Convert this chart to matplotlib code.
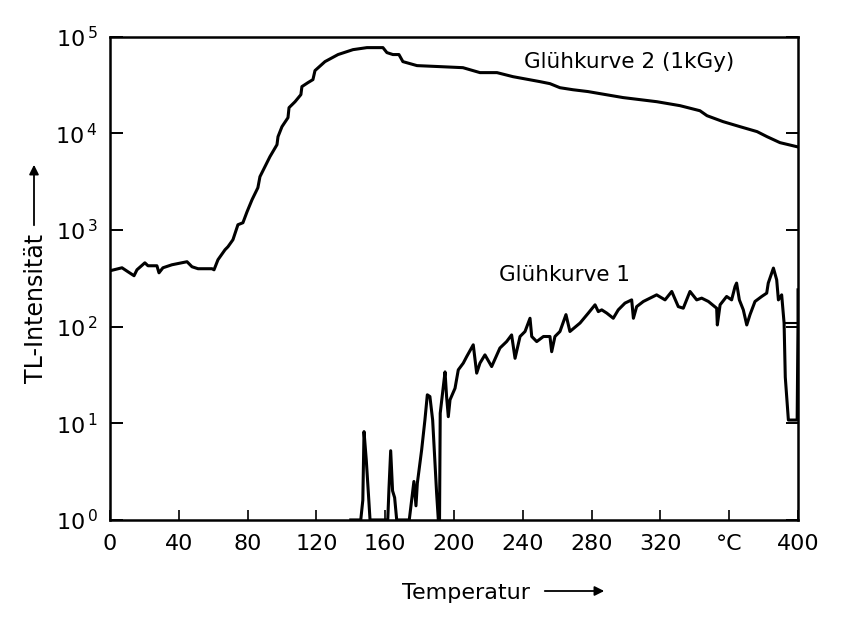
import numpy as np
import matplotlib
matplotlib.use("Agg")
from matplotlib import pyplot as plt
from matplotlib.ticker import FixedLocator, FixedFormatter, NullLocator

# Glühkurve 2 (1kGy)
g2_x = [0, 7.0, 10.5, 14.0, 15.7, 20.3, 22.1, 27.3, 28.5, 30.8, 36.0, 44.8, 47.7, 51.2,
        59.3, 60.5, 62.8, 66.9, 68.6, 71.5, 74.4, 77.3, 79.7, 82.6, 86.0, 87.2, 90.1,
        93.0, 97.1, 97.7, 100.0, 103.5, 104.1, 107.6, 111.0, 111.6, 115.1, 118.0, 119.2,
        125.0, 132.6, 141.3, 149.4, 158.7, 161.0, 164.5, 168.0, 170.3, 178.5, 191.9,
        205.2, 215.1, 225.0, 234.3, 250.0, 255.8, 261.6, 269.2, 277.9, 284.9, 298.3,
        318.0, 331.4, 343.0, 347.1, 356.4, 366.3, 376.2, 382.0, 389.5, 399.4]
g2_y = [378, 406, 369, 336, 387, 457, 426, 426, 360, 406, 436, 469, 416, 397,
        397, 387, 492, 624, 670, 792, 1132, 1187, 1542, 2054, 2734, 3555, 4510,
        5724, 7620, 9220, 11700, 14500, 18400, 21200, 25100, 30400, 33400, 35900, 44500,
        55100, 65200, 73300, 76900, 76900, 68300, 65200, 65200, 55100, 50100, 48900,
        47700, 42400, 42400, 38500, 34200, 32600, 29600, 28200, 27000, 25700, 23400,
        21200, 19300, 17100, 15200, 13200, 11700, 10400, 9220, 8000, 7260]

# Glühkurve 1
g1_x = [140, 145.8, 147.0, 147.7, 149.0, 150.0, 151.2, 161.5, 162.2, 163.2, 164.3, 165.5,
        166.7, 174.0, 176.7, 177.9, 178.7, 181.2, 183.1, 184.5, 186.0, 187.6, 189.9, 190.9,
        191.6, 192.0, 193.8, 194.8, 195.7, 196.7, 197.7, 200.6, 202.5, 205.4, 207.4, 211.2,
        213.2, 215.1, 218.0, 221.9, 226.7, 230.6, 233.5, 235.5, 238.4, 241.3, 244.2, 245.2,
        248.1, 252.0, 255.8, 256.8, 258.7, 261.6, 265.1, 267.4, 273.3, 278.1, 282.0, 283.9,
        285.9, 288.8, 292.6, 295.5, 299.4, 303.3, 304.3, 306.2, 310.1, 317.8, 322.7, 326.6,
        330.4, 333.3, 337.2, 341.1, 344.0, 347.9, 352.7, 353.1, 354.7, 358.5, 361.4, 363.4,
        364.3, 365.9, 368.2, 370.2, 372.1, 375.0, 378.9, 381.8, 382.7, 385.7, 387.6, 388.6,
        390.5, 391.9, 392.6, 394.4, 399.5, 400.0, 400.0]
g1_y = [1, 1, 1.6, 8.2, 4.2, 2.2, 1, 1, 2.1, 5.2, 2.0, 1.7,
        1, 1, 2.5, 1.4, 2.4, 5.3, 10.8, 19.7, 18.9, 10.8, 1.9, 1,
        1, 12.7, 24, 34, 18.9, 11.7, 17.5, 23, 35.7, 41.9, 49, 64.8,
        33, 41.9, 51, 38.6, 60, 70, 82, 47, 79, 89, 122, 79,
        70, 79, 79, 55, 79, 89, 133, 89, 109, 138, 168, 143,
        149, 138, 122, 149, 175, 189, 122, 161, 182, 213, 189, 231,
        161, 155, 231, 189, 197, 182, 155, 104, 168, 205, 189, 260,
        282, 189, 149, 104, 133, 182, 205, 222, 282, 403, 305, 189,
        213, 109, 30, 10.8, 10.8, 109, 240]
g1_tail_x = [392.5, 400]
g1_tail_y = [109, 109]

x_ticks = [0, 40, 80, 120, 160, 200, 240, 280, 320, 360, 400]
x_labels = ['0', '40', '80', '120', '160', '200', '240', '280', '320', '°C', '400']
y_ticks = [1, 10, 100, 1000, 10000, 100000]
y_labels = [r'$10^{\,%d}$' % i for i in range(6)]

plt.rcParams['font.family'] = ['DejaVu Sans']
plt.rcParams['mathtext.fontset'] = 'dejavusans'

fig = plt.figure(figsize=(8.59, 6.31), dpi=100)
ax = fig.add_axes([0.128, 0.176, 0.801, 0.766])

ax.plot(g2_x, g2_y, color='black', lw=2.2, solid_joinstyle='round')
ax.plot(g1_x, g1_y, color='black', lw=2.2, solid_joinstyle='round')
ax.plot(g1_tail_x, g1_tail_y, color='black', lw=1.5)

ax.set_yscale('log')
ax.set_xlim(0, 400)
ax.set_ylim(1, 1e5)

ax.xaxis.set_major_locator(FixedLocator(x_ticks))
ax.xaxis.set_major_formatter(FixedFormatter(x_labels))
ax.yaxis.set_major_locator(FixedLocator(y_ticks))
ax.yaxis.set_major_formatter(FixedFormatter(y_labels))
ax.yaxis.set_minor_locator(NullLocator())

ax.tick_params(axis='y', which='major', direction='in', length=9, width=1.4,
               right=True, labelsize=16, pad=9)
ax.tick_params(axis='x', which='major', direction='in', length=7, width=1.2,
               labelsize=16, pad=10)
for s in ax.spines.values():
    s.set_linewidth(1.8)

ax.text(301.7, 5.5e4, 'Glühkurve 2 (1kGy)', fontsize=15.5, ha='center', va='center')
ax.text(264.5, 3.4e2, 'Glühkurve 1', fontsize=15.5, ha='center', va='center')

# axis titles with arrows
fig.text(466 / 859, 1 - 593 / 631, 'Temperatur', fontsize=16, ha='center', va='center')
fig.add_artist(matplotlib.patches.FancyArrowPatch(
    (542 / 859, 1 - 591 / 631), (607 / 859, 1 - 591 / 631),
    transform=fig.transFigure, arrowstyle='-|>', mutation_scale=14,
    color='black', lw=1.3))
fig.text(36 / 859, 1 - 308 / 631, 'TL-Intensität', fontsize=17, rotation=90,
         ha='center', va='center')
fig.add_artist(matplotlib.patches.FancyArrowPatch(
    (34 / 859, 1 - 228 / 631), (34 / 859, 1 - 162 / 631),
    transform=fig.transFigure, arrowstyle='-|>', mutation_scale=14,
    color='black', lw=1.3))

fig.savefig('out.png', dpi=100)
